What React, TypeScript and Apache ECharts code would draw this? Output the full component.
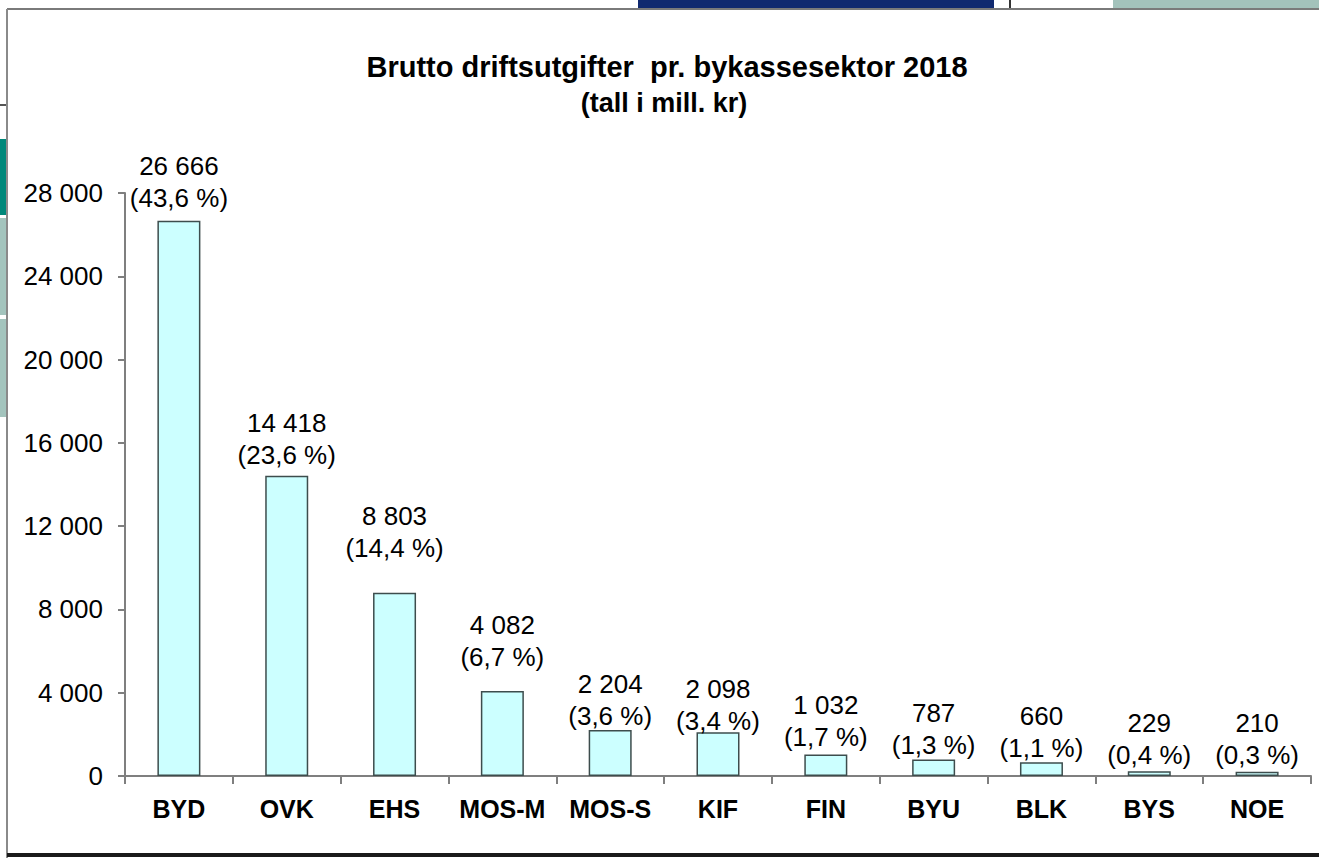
import React, { useEffect, useRef } from "react";
import * as echarts from "echarts";

const categories = ["BYD", "OVK", "EHS", "MOS-M", "MOS-S", "KIF", "FIN", "BYU", "BLK", "BYS", "NOE"];
const values = [26666, 14418, 8803, 4082, 2204, 2098, 1032, 787, 660, 229, 210];
const percents = [43.6, 23.6, 14.4, 6.7, 3.6, 3.4, 1.7, 1.3, 1.1, 0.4, 0.3];
const yTicks = { min: 0, max: 28000, interval: 4000 };
const titleText = "Brutto driftsutgifter  pr. bykassesektor 2018";
const subtitleText = "(tall i mill. kr)";

const FONT = "'Liberation Sans', Arial, sans-serif";

function fmt(v: number): string {
  return String(v).replace(/\B(?=(\d{3})+(?!\d))/g, " ");
}

export default function App() {
  const ref = useRef<HTMLDivElement>(null);

  useEffect(() => {
    if (!ref.current) return;
    const chart = echarts.init(ref.current, undefined, { renderer: "svg" });
    // gap (px) between each bar's top and its hand-placed label, as in the original
    const labelGap = [7, 5, 29, 18, -2, -5, 2, -1, -2, 0, 1];
    const option: any = {
      animation: false,
      backgroundColor: "#ffffff",
      grid: { left: 125, right: 8, top: 193, bottom: 82, containLabel: false },
      xAxis: {
        type: "category",
        data: categories,
        boundaryGap: true,
        axisLine: { show: true, lineStyle: { color: "#7f7f7f", width: 2 } },
        axisTick: { show: true, alignWithLabel: false, length: 8, lineStyle: { color: "#7f7f7f", width: 2 } },
        axisLabel: {
          margin: 20,
          color: "#000000",
          fontFamily: FONT,
          fontWeight: "bold",
          fontSize: 25,
          interval: 0,
        },
        splitLine: { show: false },
      },
      yAxis: {
        type: "value",
        min: yTicks.min,
        max: yTicks.max,
        interval: yTicks.interval,
        axisLine: { show: true, lineStyle: { color: "#7f7f7f", width: 2 } },
        axisTick: { show: true, length: 7, lineStyle: { color: "#7f7f7f", width: 2 } },
        axisLabel: {
          margin: 22,
          color: "#000000",
          fontFamily: FONT,
          fontSize: 26,
          formatter: (v: number) => fmt(v),
        },
        splitLine: { show: false },
      },
      series: [
        {
          type: "bar",
          data: values.map((v, i) => ({
            value: v,
            label: { offset: [0, -labelGap[i]] },
          })),
          barWidth: 43,
          itemStyle: { color: "#ccffff", borderColor: "#3d4d4d", borderWidth: 1.5 },
          label: {
            show: true,
            position: "top",
            distance: 0,
            color: "#000000",
            fontFamily: FONT,
            fontSize: 26,
            lineHeight: 32,
            align: "center",
            formatter: (p: any) =>
              `${fmt(values[p.dataIndex])}\n(${percents[p.dataIndex].toFixed(1).replace(".", ",")} %)`,
          },
        },
      ],
      graphic: [
        // background artefacts outside the chart frame
        { type: "rect", z: -10, shape: { x: 638, y: 0, width: 356, height: 9 }, style: { fill: "#10296f" } },
        { type: "line", z: -10, shape: { x1: 1010, y1: 0, x2: 1010, y2: 9 }, style: { stroke: "#333333", lineWidth: 2 } },
        { type: "rect", z: -10, shape: { x: 1113, y: 0, width: 206, height: 8 }, style: { fill: "#a3c2bb" } },
        { type: "line", z: -10, shape: { x1: 0, y1: 105, x2: 7, y2: 105 }, style: { stroke: "#555555", lineWidth: 2 } },
        { type: "rect", z: -10, shape: { x: 0, y: 139, width: 7, height: 76 }, style: { fill: "#00887a" } },
        { type: "rect", z: -10, shape: { x: 0, y: 218, width: 7, height: 97 }, style: { fill: "#a3c4bd" } },
        { type: "rect", z: -10, shape: { x: 0, y: 319, width: 7, height: 98 }, style: { fill: "#a3c4bd" } },
        // chart frame
        { type: "line", z: -5, shape: { x1: 7, y1: 9, x2: 1319, y2: 9 }, style: { stroke: "#7a7a7a", lineWidth: 2 } },
        { type: "line", z: -5, shape: { x1: 7, y1: 9, x2: 7, y2: 858 }, style: { stroke: "#8a8a8a", lineWidth: 2 } },
        { type: "line", z: -5, shape: { x1: 7, y1: 855, x2: 1319, y2: 855 }, style: { stroke: "#1a1a1a", lineWidth: 4 } },
        // titles
        {
          type: "text",
          x: 667,
          y: 67,
          style: {
            text: titleText,
            fill: "#000000",
            fontFamily: FONT,
            fontWeight: "bold",
            fontSize: 29,
            textAlign: "center",
            textVerticalAlign: "middle",
          },
        },
        {
          type: "text",
          x: 664,
          y: 103,
          style: {
            text: subtitleText,
            fill: "#000000",
            fontFamily: FONT,
            fontWeight: "bold",
            fontSize: 27,
            textAlign: "center",
            textVerticalAlign: "middle",
          },
        },
      ],
    };
    chart.setOption(option);
    return () => chart.dispose();
  }, []);

  return (
    <div
      ref={ref}
      style={{ position: "absolute", left: 0, top: 0, width: 1319, height: 858 }}
    />
  );
}
